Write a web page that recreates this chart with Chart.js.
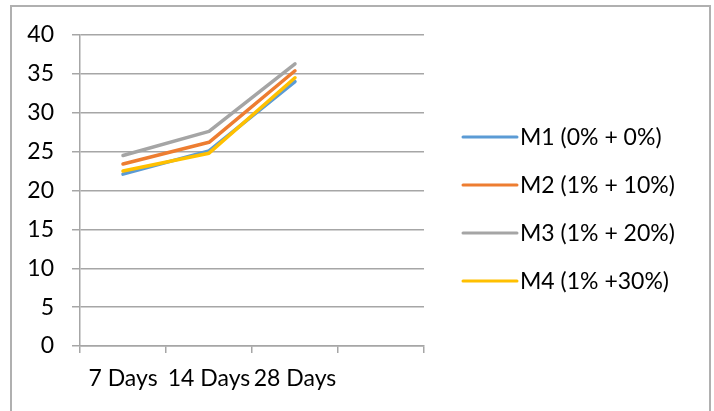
<!DOCTYPE html>
<html>
<head>
<meta charset="utf-8">
<script src="https://cdn.jsdelivr.net/npm/chart.js@4"></script>
<style>
  body { margin: 0; background: #fff; }
  #wrap { position: relative; width: 714px; height: 411px; }
  #frame { position: absolute; left: 10px; top: 5px; width: 701px; height: 420px; border: 2px solid #b0b0b0; box-sizing: border-box; pointer-events: none; }
</style>
</head>
<body>
<div id="wrap">
  <canvas id="myChart" width="714" height="411"></canvas>
  <div id="frame"></div>
</div>
<script>
const categories = ['7 Days', '14 Days', '28 Days', ''];
const m1 = [22.1, 25.1, 34.0];
const m2 = [23.4, 26.2, 35.4];
const m3 = [24.5, 27.6, 36.3];
const m4 = [22.5, 24.8, 34.5];
const yTicks = { min: 0, max: 40, step: 5 };

const gridGray = '#a6a6a6';
Chart.defaults.font.family = 'Lato, sans-serif';
Chart.defaults.font.size = 23;
Chart.defaults.color = '#000';

// the built-in right legend is capped at half the width, so draw it here
const sideLegend = {
    id: 'sideLegend',
    afterDraw(chart) {
        const c = chart.ctx;
        const lineX = chart.chartArea.right + 39;
        const lineLen = 54;
        const textX = lineX + lineLen + 3;
        const firstY = 137;
        const rowGap = 48;
        c.save();
        c.font = '23px Lato, sans-serif';
        c.textBaseline = 'middle';
        c.fillStyle = '#000';
        chart.data.datasets.forEach((ds, i) => {
            const y = firstY + i * rowGap;
            c.strokeStyle = ds.borderColor;
            c.lineWidth = 3;
            c.lineCap = 'round';
            c.beginPath();
            c.moveTo(lineX, y);
            c.lineTo(lineX + lineLen, y);
            c.stroke();
            c.fillText(ds.label, textX, y + 1);
        });
        c.restore();
    }
};

const ctx = document.getElementById('myChart');

function series(label, data, color, order) {
    return {
        label: label,
        data: data,
        borderColor: color,
        backgroundColor: color,
        borderWidth: 3.5,
        borderJoinStyle: 'round',
        borderCapStyle: 'round',
        pointRadius: 0,
        tension: 0,
        order: order,
    };
}

new Chart(ctx, {
    type: 'line',
    data: {
        labels: categories,
        datasets: [
            series('M1 (0% + 0%)', m1, '#5B9BD5', 4),
            series('M2 (1% + 10%)', m2, '#ED7D31', 3),
            series('M3 (1% + 20%)', m3, '#A5A5A5', 2),
            series('M4 (1% +30%)', m4, '#FFC000', 1),
        ]
    },
    options: {
        responsive: false,
        animation: false,
        layout: {
            padding: { top: 35, left: 0, right: 290, bottom: 0 }
        },
        plugins: {
            tooltip: { enabled: false },
            legend: { display: false },
        },
        scales: {
            x: {
                offset: true,
                grid: {
                    offset: true,
                    drawOnChartArea: false,
                    drawTicks: true,
                    tickLength: 7,
                    color: gridGray,
                    lineWidth: 1.5,
                },
                border: { display: true, color: gridGray, width: 1.5 },
                ticks: { padding: 12, maxRotation: 0, autoSkip: false },
                afterFit: (s) => { s.height = 65; },
            },
            y: {
                min: yTicks.min,
                max: yTicks.max,
                ticks: { stepSize: yTicks.step, padding: 18 },
                grid: { color: gridGray, lineWidth: 1.5, tickLength: 8 },
                border: { display: true, color: gridGray, width: 1.5 },
                afterFit: (s) => { s.width = 80; },
            }
        }
    },
    plugins: [sideLegend]
});
</script>
</body>
</html>
